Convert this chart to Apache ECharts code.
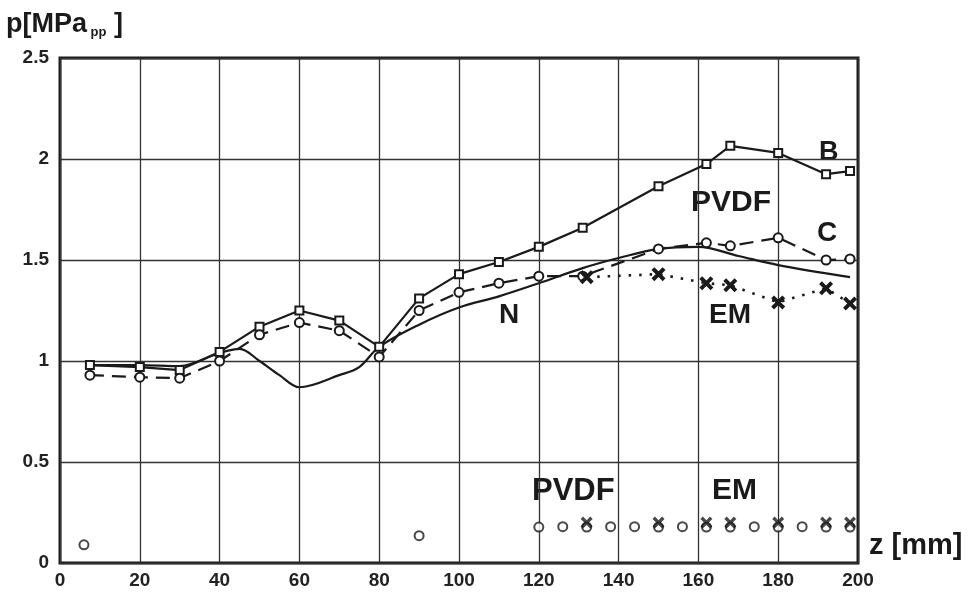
<!DOCTYPE html>
<html>
<head>
<meta charset="utf-8">
<script src="https://cdn.jsdelivr.net/npm/echarts@6/dist/echarts.min.js"></script>
<style>
html,body{margin:0;padding:0;background:#fff;}
#c{width:971px;height:592px;}
</style>
</head>
<body>
<div id="c"></div>
<script>
// z positions [mm] and pressure values [MPa pp]
const zB = [7.5, 20, 30, 40, 50, 60, 70, 80, 90, 100, 110, 120, 131, 150, 162, 168, 180, 192, 198];
const pB = [0.98, 0.97, 0.955, 1.045, 1.17, 1.25, 1.20, 1.07, 1.31, 1.43, 1.49, 1.565, 1.66, 1.865, 1.975, 2.065, 2.03, 1.925, 1.94];

const zC = [7.5, 20, 30, 40, 50, 60, 70, 80, 90, 100, 110, 120, 131, 150, 162, 168, 180, 192, 198];
const pC = [0.93, 0.92, 0.915, 1.0, 1.13, 1.19, 1.15, 1.02, 1.25, 1.34, 1.385, 1.42, 1.42, 1.555, 1.585, 1.57, 1.61, 1.50, 1.505];

const zN = [7.5, 20, 30, 40, 45, 50, 55, 60, 70, 75, 80, 90, 100, 110, 120, 131, 140, 150, 160, 170, 180, 198];
const pN = [0.98, 0.98, 0.975, 1.04, 1.06, 1.0, 0.93, 0.87, 0.93, 0.97, 1.07, 1.18, 1.265, 1.32, 1.385, 1.46, 1.51, 1.555, 1.565, 1.52, 1.475, 1.415];

const zEM = [132, 150, 162, 168, 180, 192, 198];
const pEM = [1.415, 1.43, 1.385, 1.375, 1.29, 1.36, 1.285];

// lower (second measurement set) markers
const zPVDFlow = [6, 90, 120, 126, 132, 138, 144, 150, 156, 162, 168, 174, 180, 186, 192, 198];
const pPVDFlow = [0.09, 0.135, 0.178, 0.18, 0.178, 0.18, 0.18, 0.178, 0.18, 0.178, 0.178, 0.18, 0.178, 0.18, 0.178, 0.178];
const zEMlow = [132, 150, 162, 168, 180, 192, 198];
const pEMlow = [0.2, 0.2, 0.2, 0.2, 0.2, 0.2, 0.2];

const xTicks = [0, 20, 40, 60, 80, 100, 120, 140, 160, 180, 200];
const yTicks = [0, 0.5, 1, 1.5, 2, 2.5];

const pairs = (xs, ys) => xs.map((x, i) => [x, ys[i]]);
const crossPath = 'path://M2,0 L5,3 L8,0 L10,2 L7,5 L10,8 L8,10 L5,7 L2,10 L0,8 L3,5 L0,2 Z';
const INK = '#1a1a1a';
const FONT = '"Liberation Sans", Arial, sans-serif';

const chart = echarts.init(document.getElementById('c'), null, {renderer: 'canvas'});
chart.setOption({
  backgroundColor: '#ffffff',
  animation: false,
  grid: {left: 60, right: 113, top: 58, bottom: 29, show: true, borderColor: INK, borderWidth: 3, backgroundColor: 'transparent'},
  xAxis: {
    type: 'value', min: xTicks[0], max: xTicks[xTicks.length - 1], interval: 20,
    axisLine: {show: false}, axisTick: {show: false},
    splitLine: {show: true, lineStyle: {color: '#333', width: 1.3}},
    axisLabel: {color: '#222', fontSize: 19, fontWeight: 'bold', fontFamily: FONT, margin: 8}
  },
  yAxis: {
    type: 'value', min: yTicks[0], max: yTicks[yTicks.length - 1], interval: 0.5,
    axisLine: {show: false}, axisTick: {show: false},
    splitLine: {show: true, lineStyle: {color: '#333', width: 1.3}},
    axisLabel: {color: '#222', fontSize: 19, fontWeight: 'bold', fontFamily: FONT, margin: 11}
  },
  series: [
    {
      name: 'N', type: 'line', data: pairs(zN, pN), smooth: 0.35, showSymbol: false,
      lineStyle: {color: INK, width: 2.2}, z: 2
    },
    {
      name: 'B', type: 'line', data: pairs(zB, pB), symbol: 'rect', symbolSize: 8,
      itemStyle: {color: '#fff', borderColor: INK, borderWidth: 2},
      lineStyle: {color: INK, width: 2.2}, z: 3
    },
    {
      name: 'C', type: 'line', data: pairs(zC, pC), symbol: 'circle', symbolSize: 9,
      itemStyle: {color: '#fff', borderColor: INK, borderWidth: 2},
      lineStyle: {color: INK, width: 2.2, type: [14, 8]}, z: 3
    },
    {
      name: 'EM', type: 'line', data: pairs(zEM, pEM), symbol: crossPath, symbolSize: 14,
      itemStyle: {color: INK}, lineStyle: {color: INK, width: 2.6, type: [2.5, 8]}, z: 4
    },
    {
      name: 'PVDF low', type: 'scatter', data: pairs(zPVDFlow, pPVDFlow), symbol: 'circle', symbolSize: 9,
      itemStyle: {color: '#fff', borderColor: INK, borderWidth: 2}, z: 3
    },
    {
      name: 'EM low', type: 'scatter', data: pairs(zEMlow, pEMlow), symbol: crossPath, symbolSize: 12,
      itemStyle: {color: INK}, z: 4
    }
  ],
  graphic: [
    {type: 'text', left: 6, top: 11, style: {
      text: '{m|p[MPa}{s| pp}{m| ]}', fill: INK,
      rich: {
        m: {fontSize: 27, fontWeight: 'bold', fontFamily: FONT, fill: INK},
        s: {fontSize: 13, fontWeight: 'bold', fontFamily: FONT, fill: INK, padding: [16, 0, 0, 0]}
      }}},
    {type: 'text', left: 869, top: 531, style: {text: 'z [mm]', fontSize: 29, fontWeight: 'bold', fontFamily: FONT, fill: INK}},
    {type: 'text', left: 819, top: 139, style: {text: 'B', fontSize: 27, fontFamily: FONT, fill: INK, fontWeight: 'bold'}},
    {type: 'text', left: 691, top: 188, style: {text: 'PVDF', fontSize: 30, fontFamily: FONT, fill: INK, fontWeight: 'bold'}},
    {type: 'text', left: 817, top: 219, style: {text: 'C', fontSize: 28, fontFamily: FONT, fill: INK, fontWeight: 'bold'}},
    {type: 'text', left: 499, top: 301, style: {text: 'N', fontSize: 28, fontFamily: FONT, fill: INK, fontWeight: 'bold'}},
    {type: 'text', left: 709, top: 301, style: {text: 'EM', fontSize: 28, fontFamily: FONT, fill: INK, fontWeight: 'bold'}},
    {type: 'text', left: 532, top: 476, style: {text: 'PVDF', fontSize: 31, fontFamily: FONT, fill: INK, fontWeight: 'bold'}},
    {type: 'text', left: 712, top: 476, style: {text: 'EM', fontSize: 30, fontFamily: FONT, fill: INK, fontWeight: 'bold'}}
  ]
});
</script>
</body>
</html>
